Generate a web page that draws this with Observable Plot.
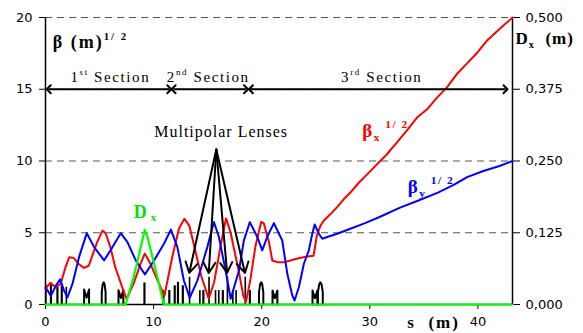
<!DOCTYPE html>
<html><head><meta charset="utf-8">
<script src="https://cdn.jsdelivr.net/npm/d3@7"></script>
<script src="https://cdn.jsdelivr.net/npm/@observablehq/plot@0.6"></script>
<style>body{margin:0;background:#fff}</style>
</head><body><div id="chart"></div>
<script>
// ---- data ----
const sBx = [0,0.45,0.95,1.4,1.85,2.2,2.6,3.1,3.55,4.0,4.75,5.27,5.57,6.0,6.45,7.1,7.5,8.15,8.8,9.18,9.7,10.35,10.8,11.0,11.75,12.35,12.85,13.3,13.75,14.4,15.1,15.6,16.2,16.7,17.13,17.43,17.9,18.3,18.55,18.97,19.43,19.95,20.2,20.67,20.98,21.44,22.05,22.67,23.3,24.2,24.8,25.1,25.44,25.75,26.37,27.0,27.6,28.2,29.0,29.8,30.7,31.5,32.4,33.4,34.4,35.3,36.2,37.15,38.1,39.0,40.0,40.85,42.0,43.2];
const betaX = [1.1,1.5,1.2,1.45,2.6,3.3,3.25,2.8,2.55,2.7,4.3,5.15,4.95,4.0,2.6,1.2,0.4,1.45,2.85,3.55,2.85,1.7,0.97,0.6,3.4,5.3,5.97,5.5,4.1,2.0,0.4,1.55,4.1,6.0,5.0,3.9,2.25,0.6,0.2,1.8,4.1,5.75,5.65,4.35,3.07,2.95,2.95,3.07,3.2,3.35,3.4,4.8,5.5,5.85,6.3,6.8,7.35,7.8,8.5,9.1,9.8,10.4,11.2,12.1,13.05,13.6,14.4,15.15,16.1,16.8,17.6,18.4,19.2,20.0];
const sBy = [0,0.5,0.95,1.35,1.72,2.03,2.5,3.1,3.82,4.5,5.42,6.2,6.96,7.58,8.35,9.2,10.04,10.96,11.6,12.2,12.8,13.34,14.05,14.97,15.58,16.04,16.66,17.13,17.9,18.35,18.9,19.6,20.05,20.5,21.13,21.9,22.37,22.83,23.04,23.44,23.9,24.36,24.68,24.9,25.29,25.6,26.06,26.99,28.2,29.5,30.9,32.8,34.5,36.3,37.8,39.0,40.5,42.0,43.2];
const betaY = [1.2,0.6,1.3,1.75,0.97,0.5,1.45,3.3,4.97,4.0,3.07,4.0,4.97,4.35,3.07,2.1,3.07,4.23,5.22,4.0,1.67,0.47,1.67,4.0,5.75,4.7,2.37,0.4,2.37,4.46,5.74,4.7,3.77,4.7,5.67,4.46,2.14,0.63,0.28,1.2,2.84,3.77,4.93,5.58,4.93,4.58,4.7,4.93,5.28,5.65,6.1,6.75,7.25,7.8,8.35,8.88,9.3,9.65,10.0];
const sDx = [0,7.4,8.15,8.6,9.18,9.43,9.9,10.35,10.95,43.2];
const dispX = [0,0,0.0475,0.0825,0.13,0.1175,0.0825,0.0475,0,0]; // metres
const dxFactor = 40; // 0.5 m on right axis = 20 on left axis

// lattice elements
const barStart = [0.0,0.45,1.05,1.45,1.9,9.1,10.85,11.4,11.9,12.2,12.65,13.3,14.25,14.55,15.1,15.7,16.0,16.35,16.8,17.3,17.6,18.45,18.85];
const barEnd   = [0.15,0.65,1.25,1.65,2.05,9.3,11.05,11.6,12.1,12.4,12.85,13.45,14.4,14.75,15.25,15.85,16.15,16.55,16.95,17.45,17.75,18.6,19.05];
const barH     = [1.35,1.5,1.2,1.3,1.2,1.5,0.97,0.97,1.3,1.55,1.3,1.9,0.97,0.97,1.9,0.97,0.97,0.97,1.9,0.97,0.97,1.9,0.97];
const mStart = [3.57,6.75,21.0,24.7];
const mEnd   = [4.03,7.2,21.45,25.15];
const mH     = [1.05,1.0,0.97,0.97];
const archStart = [5.2,19.75,25.2];
const archEnd   = [5.56,20.15,25.65];
const archH     = [1.55,1.55,1.55];

// annotations
const secStart = [0.3,11.85,19.0];
const secEnd   = [11.45,18.55,42.55];
const secLabels = ["1^{st} Section","2^{nd} Section","3^{rd} Section"];
const secLabelX = [6.0,15.05,31.1];
const lensTipS = [13.3,15.1,16.8,18.45];
const lensApex = [15.8,10.8];

const xMax = 43.2;
const yTicks = [0,5,10,15,20];
const xTicks = [0,10,20,30,40];

const spacing = {
  "1^{st} Section":1.6, "2^{nd} Section":1.6, "3^{rd} Section":1.6,
  "Multipolar Lenses":1, "β (m)^{1/ 2}":2, "D_{x}  (m)":1, "s  (m)":2,
  "D_{x}":4, "β_{x}^{ 1/ 2}":1.5, "β_{y}^{ 1/ 2}":1.5
};

// ---- derived tables ----
const mPts = mStart.flatMap((a,i)=>{const b=mEnd[i],h=mH[i],c=(a+b)/2;
  return [[a,0],[a,h],[c,h*0.45],[b,h],[b,0]].map(([x,y])=>({x,y,z:i}));});
const archPts = archStart.flatMap((a,i)=>{const b=archEnd[i],h=archH[i],c=(a+b)/2,w=b-a;
  return [[a,0],[a,h*0.55],[a+w*0.25,h*0.9],[c,h],[b-w*0.25,h*0.9],[b,h*0.55],[b,0]].map(([x,y])=>({x,y,z:i}));});

const serif = "Liberation Serif";

const plot = Plot.plot({
  width:583, height:333,
  marginLeft:45, marginRight:71, marginTop:17, marginBottom:29,
  x:{domain:[0,xMax]},
  y:{domain:[0,20]},
  style:{fontFamily:"DejaVu Sans", fontSize:"13px", color:"#000", background:"#fff"},
  marks:[
    Plot.ruleY([5,10,15,20],{stroke:"#555",strokeDasharray:"7,5",strokeWidth:1}),
    Plot.axisY(yTicks,{anchor:"left",tickSize:6,tickPadding:7,label:null,fontSize:13}),
    Plot.axisY(yTicks,{anchor:"right",tickSize:7,tickPadding:6,label:null,fontSize:13,
      tickFormat:d=>(d/dxFactor).toFixed(3).replace(".",",")}),
    Plot.axisX(xTicks,{anchor:"bottom",tickSize:5,tickPadding:7,label:null,fontSize:13}),
    Plot.ruleX([0,xMax],{stroke:"#000",strokeWidth:1.5}),
    Plot.ruleY([0],{stroke:"#000",strokeWidth:1.5}),
    // lattice
    Plot.rectY(barH,{x1:barStart,x2:barEnd,y1:0,y2:barH,fill:"#000"}),
    Plot.line(mPts,{x:"x",y:"y",z:"z",stroke:"#000",strokeWidth:2}),
    Plot.line(archPts,{x:"x",y:"y",z:"z",stroke:"#000",strokeWidth:2}),
    // optics
    Plot.line(betaX,{x:sBx,y:betaX,stroke:"#ff0000",strokeWidth:2}),
    Plot.line(betaY,{x:sBy,y:betaY,stroke:"#0000ff",strokeWidth:2}),
    Plot.line(dispX,{x:sDx,y:dispX.map(d=>d*dxFactor),stroke:"#00ff00",strokeWidth:2.2}),
    // sections
    Plot.link(secStart,{x1:secStart,x2:secEnd,y1:15,y2:15,stroke:"#000",strokeWidth:2,markerStart:"arrow-reverse",markerEnd:"arrow"}),
    Plot.text(secLabels,{x:secLabelX,y:15.83,text:d=>d,fontFamily:serif,fontSize:15}),
    // lenses
    Plot.arrow(lensTipS,{x1:lensApex[0],y1:lensApex[1],x2:lensTipS,y2:2.2,stroke:"#000",strokeWidth:2,headLength:9,bend:false}),
    Plot.text(["Multipolar Lenses"],{x:16.25,y:12.0,fontFamily:serif,fontSize:16}),
    // labels
    Plot.text(["β (m)^{1/ 2}"],{x:0.67,y:18.3,textAnchor:"start",fontFamily:serif,fontWeight:"bold",fontSize:18}),
    Plot.text(["D_{x}  (m)"],{x:xMax,dx:3,y:18.5,textAnchor:"start",fontFamily:serif,fontWeight:"bold",fontSize:17}),
    Plot.text(["s  (m)"],{x:35.9,y:-1.26,fontFamily:serif,fontWeight:"bold",fontSize:17}),
    Plot.text(["β_{x}^{ 1/ 2}"],{x:29.3,y:12.1,textAnchor:"start",fontFamily:serif,fontWeight:"bold",fontSize:19,fill:"#ff0000"}),
    Plot.text(["β_{y}^{ 1/ 2}"],{x:33.5,y:8.2,textAnchor:"start",fontFamily:serif,fontWeight:"bold",fontSize:19,fill:"#0000ff"}),
    Plot.text(["D_{x}"],{x:8.16,y:6.45,textAnchor:"start",fontFamily:serif,fontWeight:"bold",fontSize:18,fill:"#00e000"})
  ]
});
document.getElementById("chart").appendChild(plot);

// rich text: ^{sup} and _{sub}
plot.querySelectorAll("text").forEach(t=>{
  const raw = t.textContent;
  if (spacing[raw]!=null) t.style.letterSpacing = spacing[raw]+"px";
  if (!/[_^]\{/.test(raw)) return;
  const fs = parseFloat(getComputedStyle(t).fontSize)||14;
  while (t.firstChild) t.removeChild(t.firstChild);
  const re = /([_^])\{([^}]*)\}|([^_^]+)/g;
  let m, cur = 0;
  while ((m = re.exec(raw))) {
    const ts = document.createElementNS("http://www.w3.org/2000/svg","tspan");
    let target, txt, small=false;
    if (m[3]!==undefined) {target=0; txt=m[3];}
    else {txt=m[2]; small=true; target = m[1]==="^" ? -0.45*fs : 0.2*fs;}
    ts.setAttribute("dy",(target-cur).toFixed(2));
    if (small) ts.setAttribute("font-size",(0.6*fs).toFixed(1));
    ts.textContent = txt;
    cur = target;
    t.appendChild(ts);
  }
});
</script>
</body></html>
